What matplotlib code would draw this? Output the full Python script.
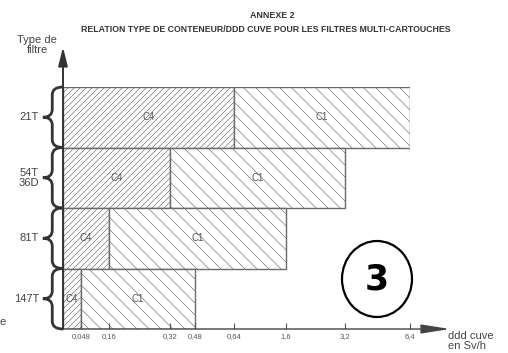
import matplotlib.pyplot as plt
import numpy as np
from matplotlib.path import Path
from matplotlib.patches import PathPatch, Ellipse

# figure drawn at 72 dpi so that hatch spacing falls on whole pixels;
# S converts sizes chosen for 100 dpi
DPI = 72
S = 100 / DPI

plt.rcParams['font.family'] = ['Liberation Sans', 'DejaVu Sans']
plt.rcParams['hatch.linewidth'] = 0.6

# Data
filters = ['21T', '54T\n36D', '81T', '147T']
c4_max = [0.64, 0.32, 0.16, 0.048]
c1_max = [6.4, 3.2, 1.6, 0.48]
tick_vals = [0.048, 0.16, 0.32, 0.48, 0.64, 1.6, 3.2, 6.4]
tick_labels = ['0,048', '0,16', '0,32', '0,48', '0,64', '1,6', '3,2', '6,4']

# Irregular axis of the original drawing: value -> position along the axis
scale_vals = [0] + tick_vals
scale_pos = [0, 18, 46, 107, 132, 171, 223, 282, 347]


def fwd(v):
    return np.interp(v, scale_vals, scale_pos)


def inv(p):
    return np.interp(p, scale_pos, scale_vals)


W, H = 508, 353
fig = plt.figure(figsize=(W / DPI, H / DPI), dpi=DPI)
ax = fig.add_axes([63 / W, 1 - 329 / H, 347 / W, 242 / H])
ax.set_xscale('function', functions=(fwd, inv))

n = len(filters)
ypos = np.arange(n)[::-1]  # 21T on top
c4 = np.array(c4_max)
c1 = np.array(c1_max)
edge = '#6a6a6a'
ax.barh(ypos, c4, left=0, height=1, align='edge', color='white',
        edgecolor=edge, hatch='////', linewidth=1.0 * S)
ax.barh(ypos, c1 - c4, left=c4, height=1, align='edge', color='white',
        edgecolor=edge, hatch='\\\\', linewidth=1.0 * S)

for i in range(n):
    xc4 = inv((fwd(0) + fwd(c4[i])) / 2)
    xc1 = inv((fwd(c4[i]) + fwd(c1[i])) / 2)
    ax.text(xc4, ypos[i] + 0.5, 'C4', ha='center', va='center', fontsize=7 * S, color='#555555')
    ax.text(xc1, ypos[i] + 0.5, 'C1', ha='center', va='center', fontsize=7 * S, color='#555555')

ax.set_xlim(0, 6.4)
ax.set_ylim(0, n)
ax.set_xticks(tick_vals)
ax.set_xticklabels(tick_labels)
ax.set_yticks([])
ax.tick_params(axis='x', direction='in', length=4 * S, width=0.8 * S, color='#555555',
               labelsize=5.5 * S, labelcolor='#555555', pad=3 * S)
ax.minorticks_off()
for s in ax.spines.values():
    s.set_visible(False)

# axes arrows
ax.annotate('', xy=(1.115, 0), xytext=(0, 0), xycoords='axes fraction',
            arrowprops=dict(arrowstyle='-|>,head_length=2.2,head_width=0.35',
                            color='#444444', lw=1.0 * S, mutation_scale=8 * S,
                            shrinkA=0, shrinkB=0))
ax.annotate('', xy=(0, 1.165), xytext=(0, 0), xycoords='axes fraction',
            arrowprops=dict(arrowstyle='-|>,head_length=1.4,head_width=0.35',
                            color='#333333', lw=1.4 * S, mutation_scale=8 * S,
                            shrinkA=0, shrinkB=0))

# braces and filter labels
tr = ax.get_yaxis_transform()
xr, xm, xl = 0.0, -0.031, -0.058
r = 0.13
for i in range(n):
    y0, y1 = ypos[i], ypos[i] + 1
    ym = ypos[i] + 0.5
    verts = [(xr, y1), (xm, y1), (xm, y1 - r), (xm, ym + r), (xm, ym), (xl, ym),
             (xm, ym), (xm, ym - r), (xm, y0 + r), (xm, y0), (xr, y0)]
    codes = [Path.MOVETO, Path.CURVE3, Path.CURVE3, Path.LINETO, Path.CURVE3, Path.CURVE3,
             Path.CURVE3, Path.CURVE3, Path.LINETO, Path.CURVE3, Path.CURVE3]
    ax.add_patch(PathPatch(Path(verts, codes), transform=tr, fill=False,
                           edgecolor='#333333', lw=2.0 * S, clip_on=False))
    ax.text(-0.069, ym, filters[i], transform=tr, ha='right', va='center',
            fontsize=8 * S, color='#444444', linespacing=0.95)

# titles and axis labels
fig.text(272 / W, 1 - 16 / H, 'ANNEXE 2', ha='center', va='center',
         fontsize=6.4 * S, fontweight='bold', color='#333333')
fig.text(266 / W, 1 - 29 / H,
         'RELATION TYPE DE CONTENEUR/DDD CUVE POUR LES FILTRES MULTI-CARTOUCHES',
         ha='center', va='center', fontsize=6.3 * S, fontweight='bold', color='#333333')
fig.text(37 / W, 1 - 45 / H, 'Type de\nfiltre', ha='center', va='center',
         fontsize=8 * S, color='#444444', linespacing=1.0)
fig.text(448 / W, 1 - 341 / H, 'ddd cuve\nen Sv/h', ha='left', va='center',
         fontsize=8 * S, color='#444444', linespacing=0.95)
fig.text(0, 1 - 322 / H, 'e', ha='left', va='center', fontsize=8 * S, color='#444444')

# circled number
fig.add_artist(Ellipse((377 / W, 1 - 279 / H), 70 / W, 76 / H, transform=fig.transFigure,
                       fill=False, edgecolor='black', lw=1.6 * S))
fig.text(377 / W, 1 - 280 / H, '3', ha='center', va='center', fontsize=25 * S,
         fontweight='heavy', color='black', family=['DejaVu Sans'])

fig.savefig('out.png', dpi=DPI)
